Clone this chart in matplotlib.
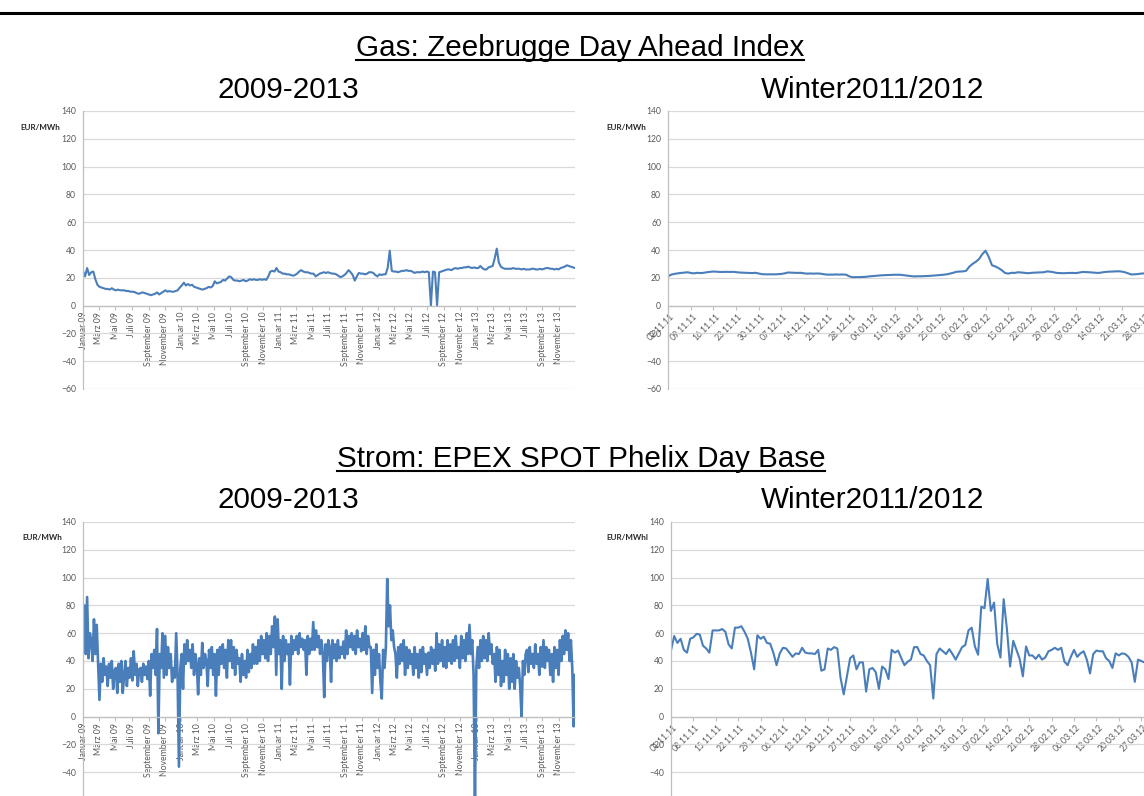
import matplotlib
matplotlib.use("Agg")
import matplotlib.pyplot as plt
from matplotlib.lines import Line2D
import matplotlib.transforms as mtransforms
import pandas as pd

W, H, DPI = 1144, 796, 100

# ---------------- data ----------------
# Gas Zeebrugge Day Ahead, Jan 2009 - Dec 2013 (4 readings per month)
gas_long = [
    25, 21, 27, 22, 24, 24.5, 19, 15, 13.5, 13, 12.5, 12, 12, 11.5, 12.5, 11.5, 11, 11.5, 11, 11, 11, 10.5, 10.5, 10,
    10, 9.8, 9, 8.5, 9, 9.5, 9, 8.5, 8, 7.5, 8, 8.5, 9.5, 8, 9, 10, 11, 10, 10.5, 10, 10, 10.5, 11, 13,
    14.5, 16.5, 14.5, 15.5, 14.5, 15, 13.5, 13, 12.5, 12, 11.5, 12, 12.5, 13.5, 13, 14, 17.5, 16, 16.5, 17, 18.5, 18, 19.5, 21,
    20.5, 18.5, 18, 18, 17.5, 18, 18.5, 17.5, 18, 19, 18.5, 19, 18.5, 18.5, 19, 18.5, 19, 18.5, 21, 24.5, 25, 24.5, 27, 24.5,
    24, 23, 23, 22.5, 22.5, 22, 21.5, 22, 23, 24.5, 25.5, 24.5, 24, 24, 23.5, 23, 23, 21, 22, 23, 23.5, 24, 23.5, 24,
    23.5, 23, 23, 22.5, 21.5, 20.5, 21, 22, 23.5, 25.5, 24, 22, 18, 21, 23.5, 23, 23, 22.5, 23, 24, 24, 23.5, 22, 21,
    22.5, 22, 22.5, 22.5, 27, 39.5, 25, 24.5, 24.5, 24, 24.5, 25, 25, 25.5, 25, 25, 24.5, 23.5, 24, 24, 24, 24.5, 24, 24.5,
    24, 0, 24.5, 24, 0, 24, 24.5, 25, 25.5, 26, 26, 25.5, 26.5, 27, 26.5, 27, 27, 27.5, 27.5, 28, 27.5, 27, 27.5, 27,
    27, 28.5, 27, 26, 26, 27.5, 28, 28.5, 34, 41, 31, 28, 27, 26.5, 26.5, 26.5, 26.5, 27, 26.5, 26.5, 26.5, 26, 26.5, 26,
    26, 26, 26.5, 26.5, 26, 26, 26.5, 26, 26.5, 27, 27, 26.5, 26.5, 26, 26.5, 26, 27, 27.5, 28, 29, 28.5, 28, 27.5, 27,
]

# Strom EPEX SPOT Phelix Day Base, Jan 2009 - Dec 2013 (6 readings per month)
power_long = [
    52, 80, 45, 86, 42, 60,  55, 40, 70, 45, 66, 38,  12, 38, 25, 42, 30, 36,  22, 38, 28, 40, 20, 33,
    35, 17, 38, 25, 40, 17,  30, 40, 22, 35, 28, 42,  26, 47, 30, 38, 22, 34,  35, 25, 38, 30, 36, 27,
    40, 15, 45, 35, 48, 30,  63, -12, 45, 35, 60, 28,  58, 30, 50, 35, 45, 25,  35, 28, 60, 30, -36, 35,
    45, 20, 52, 38, 55, 40,  48, 35, 52, 30, 45, 38,  16, 42, 30, 53, 35, 45,  40, 22, 48, 35, 50, 30,
    45, 15, 48, 30, 50, 38,  52, 35, 48, 28, 55, 40,  55, 35, 50, 30, 48, 38,  42, 25, 45, 30, 40, 28,
    48, 32, 45, 35, 52, 38,  50, 38, 55, 40, 58, 45,  55, 42, 60, 40, 58, 45,  65, 50, 72, 30, 70, 45,
    55, 20, 58, 40, 55, 45,  52, 23, 58, 45, 55, 48,  58, 45, 60, 50, 56, 48,  55, 30, 58, 45, 56, 48,
    68, 48, 62, 50, 58, 45,  55, 45, 14, 52, 40, 55,  50, 25, 55, 42, 52, 40,  55, 42, 50, 45, 54, 42,
    62, 45, 58, 50, 60, 48,  58, 45, 62, 50, 56, 47,  60, 48, 65, 45, 58, 50,  50, 17, 48, 30, 52, 35,
    45, 25, 13, 48, 35, 50,  99, 65, 80, 55, 62, 50,  45, 28, 50, 38, 52, 40,  55, 30, 50, 35, 48, 38,
    45, 30, 50, 35, 45, 28,  48, 32, 50, 38, 45, 30,  46, 35, 50, 38, 48, 33,  60, 38, 52, 40, 55, 36,
    50, 35, 55, 40, 52, 38,  55, 40, 58, 42, 50, 35,  58, 42, 55, 40, 60, 45,  66, 45, 55, 30, -58, 35,
    50, 35, 55, 40, 58, 42,  55, 40, 60, 45, 52, 38,  45, 25, 50, 30, 48, 22,  40, 25, 48, 30, 45, 20,
    42, 25, 45, 20, 40, 28,  35, 22, 0, 40, 30, 45,  48, 32, 50, 38, 45, 35,  52, 38, 45, 30, 50, 36,
    55, 35, 50, 40, 48, 30,  45, 25, 50, 35, 48, 30,  55, 40, 58, 45, 62, 48,  60, 40, 55, 35, -7, 30,
]

# Gas, daily 02.11.2011 - 31.03.2012
gas_winter = [
    21, 22.3, 22.8, 23.2, 23.5, 23.7, 24, 23.5, 23.2, 23.6,
    23.4, 23.6, 24, 24.3, 24.5, 24.4, 24.2, 24.2, 24.3, 24.2,
    24.3, 24.1, 23.8, 23.7, 23.6, 23.5, 23.4, 23.6, 23.1, 22.6,
    22.5, 22.5, 22.5, 22.5, 22.6, 22.8, 23.2, 23.8, 23.7, 23.6,
    23.5, 23.6, 23.2, 23, 23.1, 23, 23.1, 23, 22.6, 22.3,
    22.3, 22.3, 22.4, 22.3, 22.4, 22.2, 21, 20.4, 20.5, 20.5,
    20.6, 20.7, 21, 21.2, 21.4, 21.6, 21.8, 21.9, 22, 22.1,
    22.2, 22.2, 22.1, 21.8, 21.5, 21.2, 21, 21.1, 21.1, 21.2,
    21.3, 21.4, 21.6, 21.8, 22, 22.2, 22.5, 23, 23.6, 24.3,
    24.5, 24.6, 25, 28, 30, 31.5, 33.5, 37, 39.5, 35,
    29, 28.2, 27, 25.5, 23.5, 23, 23.6, 23.5, 24, 23.8,
    23.6, 23.3, 23.5, 23.7, 23.8, 23.9, 24, 24.6, 24.4, 24,
    23.5, 23.4, 23.3, 23.4, 23.5, 23.5, 23.4, 23.8, 24.2, 24.1,
    24, 23.8, 23.6, 23.5, 23.9, 24.2, 24.4, 24.5, 24.6, 24.7,
    24.5, 24, 23.2, 22.4, 22.5, 22.7, 23, 23.2, 23.3, 23.5, 23.6,
]

# Strom, daily 01.11.2011 - 31.03.2012
power_winter = [
    47.5, 58, 53, 56, 48, 46, 56, 57, 59.5, 59,
    51, 49, 46, 62, 62, 62, 63, 61, 52, 49,
    64, 64, 65, 61, 56, 46, 34, 58.5, 56, 57.5,
    53, 52.5, 46, 37, 45.5, 49.5, 49, 46, 43, 45.5,
    45, 49.5, 46, 45.5, 45.5, 45, 48, 33, 34, 49,
    48, 50, 49, 28, 16, 29, 42, 44, 34, 39,
    39, 18, 34, 35, 32, 20, 36, 34, 27, 48,
    46, 47.5, 42, 37, 39.5, 41, 50, 50, 45, 44,
    40, 37, 13, 45, 49, 47, 45, 48.5, 45, 41,
    45.5, 50, 51.5, 62, 64, 50.5, 44.5, 79, 78, 99,
    76, 82, 52, 42.5, 84.5, 63.5, 36, 54.5, 48, 41.5,
    29, 50.5, 44, 44, 41.5, 44.5, 41, 42.5, 47, 48,
    49.5, 48, 49.5, 39.5, 37, 43, 48, 43, 45.5, 47,
    41, 31, 45, 47.5, 47, 47, 42, 40, 35, 45.5,
    44, 45.5, 45, 43, 39, 25, 41, 40, 39, 42, 40, 38,
]

month_names = ["Januar", "März", "Mai", "Juli", "September", "November"]
year_labels = ["09", "10", "11", "12", "13"]
y_ticks = [-60, -40, -20, 0, 20, 40, 60, 80, 100, 120, 140]

# ---------------- styling ----------------
BLUE = "#4a7ebb"
GRID = "#d9d9d9"
AXIS = "#bfbfbf"
LABEL = "#595959"
TICKFONT = "Lato"
TITLEFONT = "Liberation Sans"
TITLESIZE = 21.3

fig = plt.figure(figsize=(W / DPI, H / DPI), dpi=DPI)


def fy(y):
    return 1 - y / H


def add_axes_px(x0, x1, ytop, ybot):
    return fig.add_axes([x0 / W, 1 - ybot / H, (x1 - x0) / W, (ybot - ytop) / H])


def style(ax, xpad):
    # spine position first: it resets the ticks
    for s in ("top", "right"):
        ax.spines[s].set_visible(False)
    ax.spines["bottom"].set_position(("data", 0))
    ax.spines["left"].set_color(AXIS)
    ax.spines["left"].set_linewidth(0.9)
    ax.spines["bottom"].set_color(AXIS)
    ax.spines["bottom"].set_linewidth(0.9)
    ax.set_ylim(-60, 140)
    ax.set_yticks(y_ticks)
    ax.grid(axis="y", color=GRID, lw=0.9)
    ax.set_axisbelow(True)
    ax.patch.set_alpha(0)
    ax.tick_params(axis="y", length=0, labelsize=6.2, labelcolor=LABEL, pad=5,
                   labelfontfamily=TICKFONT)
    ax.tick_params(axis="x", length=3, color=AXIS, direction="out",
                   labelsize=6.2, labelcolor=LABEL, pad=xpad,
                   labelfontfamily=TICKFONT)


def long_axis(ax, values, lw):
    style(ax, 1.5)
    dates = pd.date_range("2009-01-01", "2013-12-31", periods=len(values))
    ax.plot(dates, values, color=BLUE, lw=lw, solid_joinstyle="round")
    ax.set_xlim(pd.Timestamp("2009-01-01"), pd.Timestamp("2013-12-31"))
    ticks, labels = [], []
    for yl in year_labels:
        for i, mn in enumerate(month_names):
            ticks.append(pd.Timestamp(f"20{yl}-{2 * i + 1:02d}-01"))
            labels.append(f"{mn} {yl}")
    ax.set_xticks(ticks)
    ax.set_xticklabels(labels)
    for lab in ax.get_xticklabels():
        lab.set(rotation=90, ha="center", va="top")


def winter_axis(ax, values, start, lw):
    style(ax, 4)
    dates = pd.date_range(start, periods=len(values), freq="D")
    ax.plot(dates, values, color=BLUE, lw=lw, solid_joinstyle="round")
    ax.set_xlim(pd.Timestamp(start), pd.Timestamp("2012-03-31"))
    ticks = pd.date_range(start, "2012-03-31", freq="7D")
    ax.set_xticks(ticks)
    ax.set_xticklabels([t.strftime("%d.%m.%y") for t in ticks])
    shift = mtransforms.ScaledTranslation(5 / DPI, 0, fig.dpi_scale_trans)
    for lab in ax.get_xticklabels():
        lab.set(rotation=45, ha="right", va="center", rotation_mode="anchor")
        lab.set_transform(lab.get_transform() + shift)


def hide_bottom_ylabel(ax):
    # the -60 row lies below the picture's lower edge in the original
    ax.get_yticklabels()[0].set_visible(False)


# ---------------- axes ----------------
ax1 = add_axes_px(83, 575, 111, 389)
long_axis(ax1, gas_long, 1.5)
ax2 = add_axes_px(668, 1154, 111, 389)
winter_axis(ax2, gas_winter, "2011-11-02", 1.5)
ax3 = add_axes_px(83, 575, 522, 800)
long_axis(ax3, power_long, 1.9)
hide_bottom_ylabel(ax3)
ax4 = add_axes_px(671, 1154, 522, 800)
winter_axis(ax4, power_winter, "2011-11-01", 1.5)
hide_bottom_ylabel(ax4)

for (x, y, s) in [(40, 127, "EUR/MWh"), (626, 127, "EUR/MWh"),
                  (42, 537, "EUR/MWh"), (627, 537, "EUR/MWhl")]:
    fig.text(x / W, fy(y), s, ha="center", va="center", fontsize=5.8,
             fontweight="bold", color="#262626", family=TICKFONT)

# ---------------- titles ----------------
fig.add_artist(Line2D([0, 1], [fy(13), fy(13)], transform=fig.transFigure,
                      color="black", lw=2.2))

titles = []
for (x, y, s, ul) in [(580, 56, "Gas: Zeebrugge Day Ahead Index", True),
                      (288, 98, "2009-2013", False),
                      (873, 98, "Winter2011/2012", False),
                      (581, 467, "Strom: EPEX SPOT Phelix Day Base", True),
                      (288, 508, "2009-2013", False),
                      (873, 508, "Winter2011/2012", False)]:
    t = fig.text(x / W, fy(y), s, ha="center", va="baseline", fontsize=TITLESIZE,
                 color="black", family=TITLEFONT)
    titles.append((t, y, ul))

fig.canvas.draw()
renderer = fig.canvas.get_renderer()
for t, y, ul in titles:
    if ul:
        bb = t.get_window_extent(renderer)
        fig.add_artist(Line2D([bb.x0 / W, bb.x1 / W], [fy(y + 3.5), fy(y + 3.5)],
                              transform=fig.transFigure, color="black", lw=1.5))

fig.savefig("out.png", dpi=DPI)
